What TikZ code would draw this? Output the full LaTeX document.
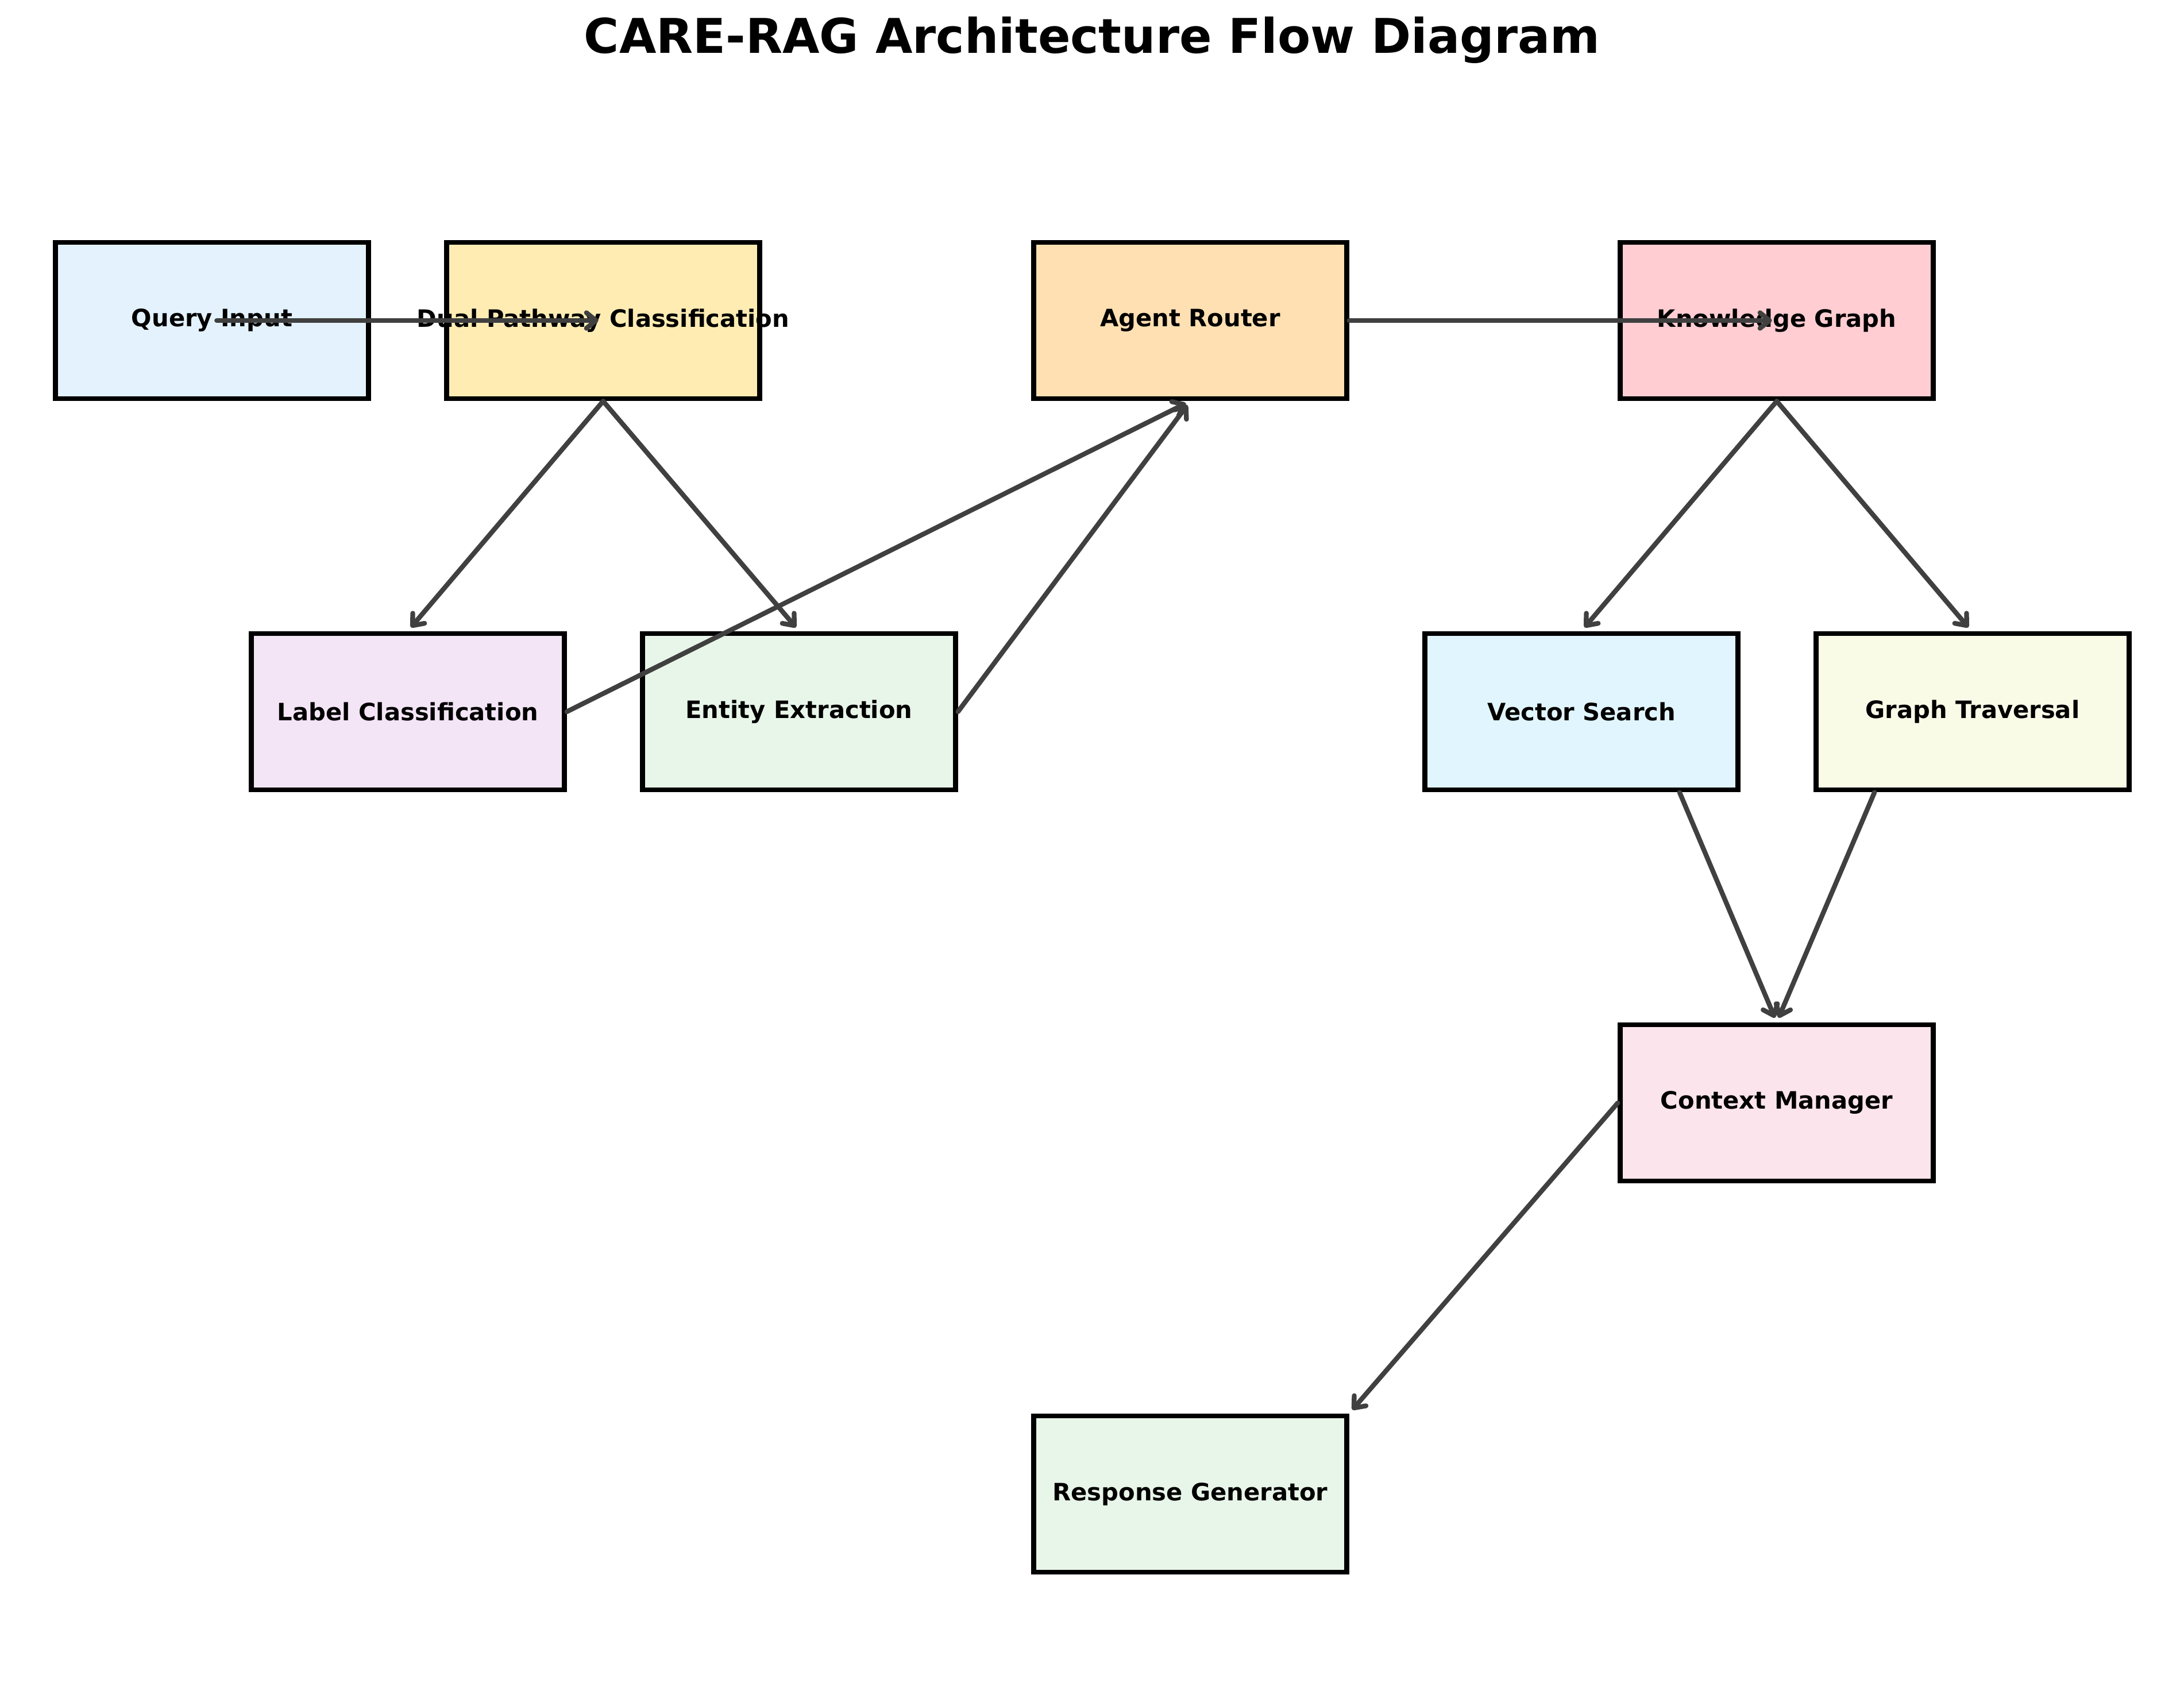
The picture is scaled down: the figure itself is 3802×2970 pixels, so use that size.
\documentclass[tikz,border=0pt]{standalone}
\usepackage{fontspec}
\setmainfont{DejaVu Sans}
\usetikzlibrary{arrows.meta}
\definecolor{cquery}{HTML}{E3F2FD}
\definecolor{cdual}{HTML}{FFECB3}
\definecolor{cagent}{HTML}{FFE0B2}
\definecolor{ckg}{HTML}{FFCDD2}
\definecolor{clabel}{HTML}{F3E5F5}
\definecolor{centity}{HTML}{E8F5E9}
\definecolor{cvector}{HTML}{E1F5FE}
\definecolor{cgraph}{HTML}{F9FBE7}
\definecolor{ccontext}{HTML}{FCE4EC}
\definecolor{cresp}{HTML}{E8F5E9}
\definecolor{arrowgray}{HTML}{404040}
\begin{document}
\begin{tikzpicture}[x=0.24pt,y=-0.24pt,
  box/.style={draw=black, line width=2pt, minimum width=130.8pt, minimum height=65.4pt,
    inner sep=0pt, font=\bfseries\fontsize{10}{12}\selectfont},
  flow/.style={draw=arrowgray, line width=2pt, line cap=round,
    -{Straight Barb[length=4pt,width=6.5pt,round]}, shorten >=2pt}]
\useasboundingbox[fill=white] (0,0) rectangle (3802,2970);

\node[font=\bfseries\fontsize{20}{24}\selectfont, anchor=base] (title) at (1901,93) {CARE-RAG Architecture Flow Diagram};

\node[box, fill=cquery]   (query)    at (369,558)   {Query Input};
\node[box, fill=cdual]    (dual)     at (1050,558)  {\makebox[0pt][c]{Dual Pathway Classification}};
\node[box, fill=cagent]   (agent)    at (2072,558)  {Agent Router};
\node[box, fill=ckg]      (kg)       at (3093,558)  {Knowledge Graph};
\node[box, fill=clabel]   (label)    at (710,1239)  {Label Classification};
\node[box, fill=centity]  (entity)   at (1391,1239) {Entity Extraction};
\node[box, fill=cvector]  (vector)   at (2753,1239) {Vector Search};
\node[box, fill=cgraph]   (graph)    at (3434,1239) {Graph Traversal};
\node[box, fill=ccontext] (context)  at (3093,1920) {Context Manager};
\node[box, fill=cresp]    (response) at (2072,2601) {Response Generator};

\draw[flow, shorten <=2pt] (query.center) -- (dual.center);
\draw[flow] (agent.east) -- (kg.center);
\draw[flow] (dual.south) -- (label.north);
\draw[flow] (dual.south) -- (entity.north);
\draw[flow] (label.east) -- (agent.south);
\draw[flow] (entity.east) -- (agent.south);
\draw[flow] (kg.south) -- (vector.north);
\draw[flow] (kg.south) -- ([xshift=-0.5pt]graph.north);
\draw[flow] ([xshift=41pt]vector.south) -- (context.north);
\draw[flow] ([xshift=-41pt]graph.south) -- (context.north);
\draw[flow] (context.west) -- (response.north east);
\end{tikzpicture}
\end{document}
